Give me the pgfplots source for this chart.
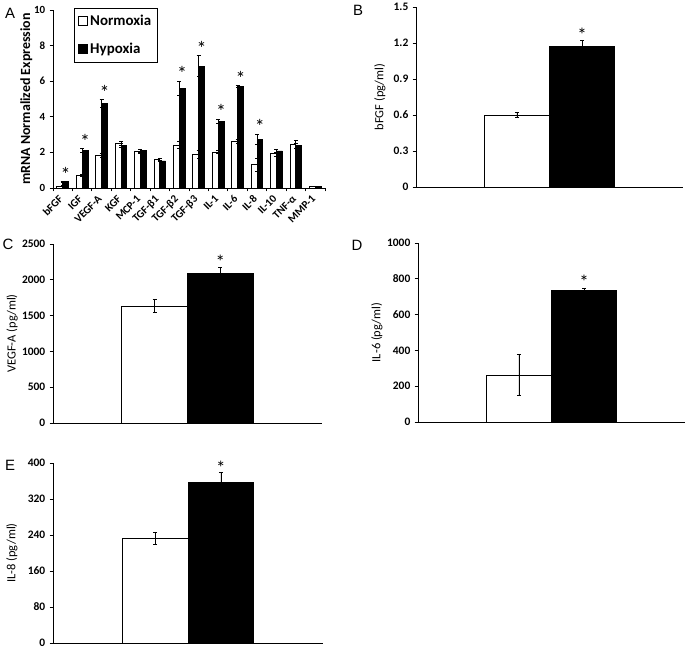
\documentclass[border=0pt]{standalone}
\usepackage{graphicx}
\usepackage{fontspec}
\setmainfont{Carlito}
\newfontfamily\arialfont{Liberation Sans}
\usepackage{pgfplots}
\pgfplotsset{compat=1.18}
\newcommand{\rl}[1]{\rotatebox{45}{#1}}
\pgfplotsset{
  panel/.style={
    scale only axis,
    axis x line*=bottom, axis y line*=left,
    axis line style={black, line width=0.9bp},
    tick align=outside,
    major tick length=3.5bp,
    minor tick length=3.5bp,
    every tick/.style={black, line width=0.8bp},
    ymin=0,
    scaled y ticks=false,
    /pgf/number format/assume math mode=true,
    /pgf/number format/1000 sep={},
    yticklabel style={font=\bfseries\fontsize{11.5}{12}\selectfont, inner sep=1bp, xshift=-3bp},
    ylabel style={font=\fontsize{12.5}{14}\selectfont, anchor=center},
    clip=false,
  },
  small/.style={panel, width=267bp, height=180bp, xmin=-2.05, xmax=2.05, xtick=\empty},
  nbar/.style={ybar, bar width=#1, fill=white, draw=black, line width=0.8bp,
    legend image code/.code={\draw[black, fill=white, line width=0.8bp] (0bp,-4.5bp) rectangle (9bp,4.5bp);}},
  hbar/.style={ybar, bar width=#1, fill=black, draw=black, line width=0.8bp,
    legend image code/.code={\draw[black, fill=black, line width=0.8bp] (0bp,-4.5bp) rectangle (9bp,4.5bp);}},
  errs/.style={error bars/.cd, y dir=both, y explicit,
    error bar style={line width=0.8bp, black},
    error mark options={rotate=90, mark size=#1, line width=0.8bp, black}},
  stars/.style={draw=none, mark=none, forget plot, nodes near coords={*},
    nodes near coords style={anchor=south, inner sep=0pt, font=\fontsize{#1}{#1}\selectfont}},
}
\begin{document}
\begin{tikzpicture}[x=1bp,y=1bp]
\useasboundingbox (0,0) rectangle (689,650);

% ---------------- Panel A ----------------
\begin{axis}[panel, at={(53bp,462bp)}, anchor=south west, width=272bp, height=178bp,
  xmin=-0.5, xmax=13.5, ymax=10, ytick={0,2,4,6,8,10},
  yticklabel style={font=\bfseries\fontsize{11}{12}\selectfont},
  xtick={0,1,2,3,4,5,6,7,8,9,10,11,12,13},
  xticklabels={\rl{bFGF},\rl{IGF},\rl{VEGF-A},\rl{KGF},\rl{MCP-1},\rl{TGF-β1},\rl{TGF-β2},\rl{TGF-β3},\rl{IL-1},\rl{IL-6},\rl{IL-8},\rl{IL-10},\rl{TNF-α},\rl{MMP-1}},
  major x tick style={draw=none},
  minor xtick={-0.5,0.5,...,13.5},
  xticklabel style={anchor=north east, inner sep=0pt, yshift=-3bp, xshift=1bp, font=\bfseries\fontsize{11}{12}\selectfont},
  ylabel={\bfseries mRNA Normalized Expression},
  ylabel style={font=\fontsize{14}{16}\selectfont, at={(axis description cs:-0.098,0.5)}},
  legend style={at={(axis description cs:0.077,1.012)}, anchor=north west, draw=black, line width=1bp,
    font=\bfseries\fontsize{15}{17}\selectfont, row sep=12bp, inner xsep=4bp, inner ysep=5bp},
  legend cell align=left,
]
\addplot[nbar=0.3, bar shift=-0.15, errs=2bp] coordinates {
 (0,0.1) +- (0,0.02) (1,0.72) +- (0,0.05) (2,1.83) +- (0,0.12) (3,2.5) +- (0,0.1)
 (4,2.05) +- (0,0.13) (5,1.62) +- (0,0.07) (6,2.42) +- (0,0.2) (7,1.9) +- (0,0.22)
 (8,2.02) +- (0,0.08) (9,2.62) +- (0,0.1) (10,1.3) +- (0,0.35) (11,1.97) +- (0,0.17)
 (12,2.45) +- (0,0.22) (13,0.08) +- (0,0.01)};
\addlegendentry{Normoxia}
\addplot[hbar=0.3, bar shift=0.15, errs=2bp] coordinates {
 (0,0.35) +- (0,0.02) (1,2.1) +- (0,0.1) (2,4.73) +- (0,0.22) (3,2.38) +- (0,0.1)
 (4,2.1) +- (0,0.08) (5,1.52) +- (0,0.03) (6,5.6) +- (0,0.4) (7,6.85) +- (0,0.6)
 (8,3.75) +- (0,0.12) (9,5.7) +- (0,0.05) (10,2.75) +- (0,0.28) (11,2.08) +- (0,0.1)
 (12,2.38) +- (0,0.15) (13,0.08) +- (0,0.01)};
\addlegendentry{Hypoxia}
\addplot[stars=20] coordinates {(0.15,0.36) (1.15,2.2) (2.15,4.95) (6.15,6.0) (7.15,7.45) (8.15,3.87) (9.15,5.75) (10.15,3.03)};
\end{axis}

% ---------------- Panel B ----------------
\begin{axis}[small, at={(416bp,463bp)}, anchor=south west,
  ymax=1.5, ytick={0,0.3,0.6,0.9,1.2,1.5},
  ylabel={bFGF (pg/ml)},
  ylabel style={at={(axis description cs:-0.135,0.5)}}]
\addplot[nbar=1, bar shift=0pt, errs=2bp] coordinates {(-0.5,0.60) +- (0,0.02)};
\addplot[hbar=1, bar shift=0pt, errs=2bp] coordinates {(0.5,1.175) +- (0,0.045)};
\addplot[stars=19] coordinates {(0.5,1.21)};
\end{axis}

% ---------------- Panel C ----------------
\begin{axis}[small, at={(53bp,227bp)}, anchor=south west, width=269bp, height=179bp,
  ymax=2500, ytick={0,500,1000,1500,2000,2500},
  ylabel={VEGF-A (pg/ml)},
  ylabel style={at={(axis description cs:-0.152,0.5)}}]
\addplot[nbar=1, bar shift=0pt, errs=2bp] coordinates {(-0.5,1632) +- (0,88)};
\addplot[hbar=1, bar shift=0pt, errs=2bp] coordinates {(0.5,2088) +- (0,85)};
\addplot[stars=19] coordinates {(0.5,2160)};
\end{axis}

% ---------------- Panel D ----------------
\begin{axis}[small, at={(418bp,228bp)}, anchor=south west, height=179bp,
  ymax=1000, ytick={0,200,400,600,800,1000},
  ylabel={IL-6 (pg/ml)},
  ylabel style={at={(axis description cs:-0.154,0.5)}}]
\addplot[nbar=1, bar shift=0pt, errs=2bp] coordinates {(-0.5,263) +- (0,113)};
\addplot[hbar=1, bar shift=0pt, errs=2bp] coordinates {(0.5,733) +- (0,13)};
\addplot[stars=19] coordinates {(0.5,745)};
\end{axis}

% ---------------- Panel E ----------------
\begin{axis}[small, at={(53bp,7bp)}, anchor=south west, width=270bp,
  ymax=400, ytick={0,80,160,240,320,400},
  ylabel={IL-8 (pg/ml)},
  ylabel style={at={(axis description cs:-0.152,0.5)}}]
\addplot[nbar=1, bar shift=0pt, errs=2bp] coordinates {(-0.5,233) +- (0,13)};
\addplot[hbar=1, bar shift=0pt, errs=2bp] coordinates {(0.5,357) +- (0,21)};
\addplot[stars=19] coordinates {(0.5,375)};
\end{axis}

% panel letters
\node[font=\arialfont\fontsize{15}{15}\selectfont] at (10,637) {A};
\node[font=\arialfont\fontsize{15}{15}\selectfont] at (358,640) {B};
\node[font=\arialfont\fontsize{15}{15}\selectfont] at (8,406) {C};
\node[font=\arialfont\fontsize{15}{15}\selectfont] at (357,405) {D};
\node[font=\arialfont\fontsize{15}{15}\selectfont] at (10,185) {E};
\end{tikzpicture}
\end{document}
